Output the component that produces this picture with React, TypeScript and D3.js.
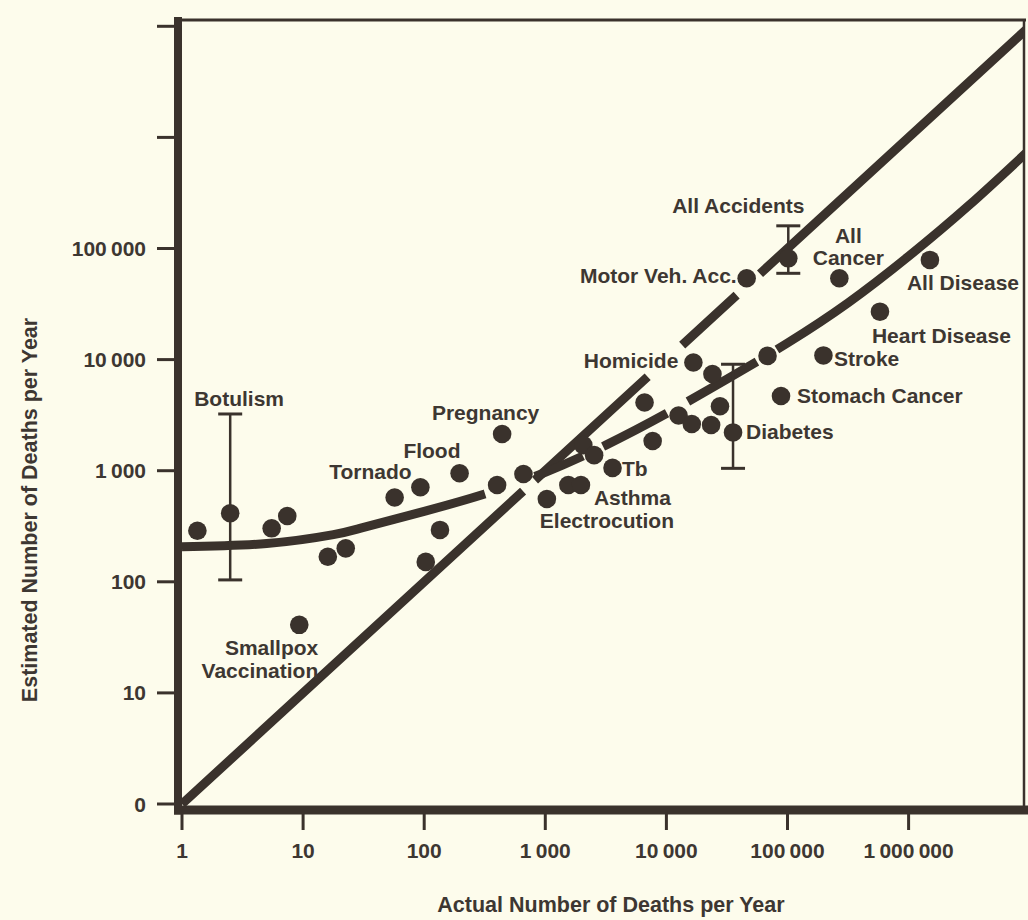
import React, { useEffect, useRef } from "react";
import * as d3 from "d3";

// ---- data ----
const actualDeaths = [
  1.34, 2.5, 5.5, 7.4, 9.3, 16, 22.5, 57, 93, 103, 135, 196, 440, 400, 660, 1030,
  1550, 1970, 2060, 2530, 3590, 6600, 7700, 12600, 16200, 16700, 24000, 23400,
  27700, 35500, 68400, 46000, 101500, 268000, 1500000, 580000, 198000, 88400,
];
const estimatedDeaths = [
  288, 414, 303, 391, 41, 168, 200, 574, 710, 151, 293, 948, 2140, 743, 934, 556,
  743, 743, 1700, 1380, 1060, 4110, 1850, 3140, 2630, 9420, 7420, 2580,
  3800, 2210, 10800, 54000, 81600, 54000, 78900, 27000, 10900, 4700,
];
const hazardNames = [
  "", "Botulism", "", "", "Smallpox Vaccination", "", "", "Tornado", "Flood", "", "", "", "Pregnancy", "", "", "Electrocution",
  "", "Asthma", "", "", "Tb", "", "", "", "", "Homicide", "", "",
  "", "Diabetes", "", "Motor Veh. Acc.", "All Accidents", "All Cancer", "All Disease", "Heart Disease", "Stroke", "Stomach Cancer",
];

const errorBarActual = [2.5, 35500, 101500];
const errorBarLow = [104, 1050, 59800];
const errorBarHigh = [3240, 9080, 160000];

// fitted curve
const fitActual = [1, 5, 17.8, 31.6, 100, 316, 1000, 3162, 10000, 31623, 100000, 316228, 1000000, 3162278, 10000000];
const fitEstimated = [207, 221, 266, 309, 431, 617, 966, 1700, 3270, 6680, 14100, 32400, 85100, 245500, 776000];
// where the lines are interrupted (actual deaths ranges)
const fitGaps: [number, number][] = [[318, 822], [2048, 2999], [10120, 15080], [56000, 81900]];
const identityGaps: [number, number][] = [[655, 822], [7000, 13500], [38000, 59300]];

const xTickValues = [1, 10, 100, 1000, 10000, 100000, 1000000];
const xTickLabels = ["1", "10", "100", "1\u2009000", "10\u2009000", "100\u2009000", "1\u2009000\u2009000"];
const yTickValues = [1, 10, 100, 1000, 10000, 100000, 1000000, 10000000];
const yTickLabels = ["0", "10", "100", "1\u2009000", "10\u2009000", "100\u2009000", "", ""];

const xTitle = "Actual Number of Deaths per Year";
const yTitle = "Estimated Number of Deaths per Year";

// ---- layout ----
const W = 1028;
const H = 920;
const BG = "#fdfcec";
const INK = "#3a322c";
const TEXT = "#3d3732";
const FONT = "'Liberation Sans', Arial, Helvetica, sans-serif";

const labelLayout: Record<string, { dx: number; dy: number[]; anchor: string; lines: string[] }> = {
  "Botulism": { dx: -36, dy: [-107], anchor: "start", lines: ["Botulism"] },
  "Smallpox Vaccination": { dx: 19, dy: [30, 53], anchor: "end", lines: ["Smallpox", "Vaccination"] },
  "Tornado": { dx: 17, dy: [-18], anchor: "end", lines: ["Tornado"] },
  "Flood": { dx: -17, dy: [-29], anchor: "start", lines: ["Flood"] },
  "Pregnancy": { dx: -16.5, dy: [-14], anchor: "middle", lines: ["Pregnancy"] },
  "Electrocution": { dx: -7, dy: [29], anchor: "start", lines: ["Electrocution"] },
  "Asthma": { dx: 13, dy: [20], anchor: "start", lines: ["Asthma"] },
  "Tb": { dx: 9.5, dy: [8], anchor: "start", lines: ["Tb"] },
  "Homicide": { dx: -15, dy: [5.5], anchor: "end", lines: ["Homicide"] },
  "Diabetes": { dx: 13, dy: [7], anchor: "start", lines: ["Diabetes"] },
  "Motor Veh. Acc.": { dx: -10, dy: [5], anchor: "end", lines: ["Motor Veh. Acc."] },
  "All Accidents": { dx: -50, dy: [-45], anchor: "middle", lines: ["All Accidents"] },
  "All Cancer": { dx: 9, dy: [-35, -13], anchor: "middle", lines: ["All", "Cancer"] },
  "All Disease": { dx: -23, dy: [30], anchor: "start", lines: ["All Disease"] },
  "Heart Disease": { dx: -8, dy: [31], anchor: "start", lines: ["Heart Disease"] },
  "Stroke": { dx: 10.5, dy: [11], anchor: "start", lines: ["Stroke"] },
  "Stomach Cancer": { dx: 16, dy: [7], anchor: "start", lines: ["Stomach Cancer"] },
};

function lengthAtX(path: SVGPathElement, px: number): number {
  let lo = 0;
  let hi = path.getTotalLength();
  for (let i = 0; i < 40; i++) {
    const mid = (lo + hi) / 2;
    if (path.getPointAtLength(mid).x < px) lo = mid;
    else hi = mid;
  }
  return lo;
}

function dashWithGaps(path: SVGPathElement, gapsPx: [number, number][]): string {
  const total = path.getTotalLength();
  const parts: number[] = [];
  let prev = 0;
  gapsPx.forEach(([a, b]) => {
    const la = lengthAtX(path, a);
    const lb = lengthAtX(path, b);
    parts.push(la - prev, lb - la);
    prev = lb;
  });
  parts.push(total - prev + 50, 5000);
  return parts.map((v) => v.toFixed(2)).join(" ");
}

export default function App() {
  const ref = useRef<SVGSVGElement>(null);

  useEffect(() => {
    const svg = d3.select(ref.current as SVGSVGElement);
    svg.selectAll("*").remove();

    const x = d3.scaleLog().domain([1, 1e7]).range([182, 182 + 7 * 121.1]);
    const y = d3.scaleLog().domain([1, 1e7]).range([804, 804 - 7 * 111.1]);

    const plotLeft = 178;
    const plotRight = 1024;
    const plotTop = 20;
    const plotBottom = 810;

    svg.append("rect").attr("width", W).attr("height", H).attr("fill", BG);

    svg
      .append("clipPath")
      .attr("id", "plotclip")
      .append("rect")
      .attr("x", plotLeft)
      .attr("y", plotTop)
      .attr("width", plotRight - plotLeft)
      .attr("height", plotBottom - plotTop);

    const plot = svg.append("g").attr("clip-path", "url(#plotclip)");

    // identity line
    const identity = plot
      .append("path")
      .attr("d", d3.line()([[x(1), y(1)], [x(1e7), y(1e7)]]))
      .attr("fill", "none")
      .attr("stroke", INK)
      .attr("stroke-width", 9);
    identity.attr(
      "stroke-dasharray",
      dashWithGaps(identity.node() as SVGPathElement, identityGaps.map(([a, b]) => [x(a), x(b)]))
    );

    // fitted curve
    const fitPts: [number, number][] = fitActual.map((a, i) => [x(a), y(fitEstimated[i])]);
    const curve = plot
      .append("path")
      .attr("d", d3.line().curve(d3.curveNatural)(fitPts))
      .attr("fill", "none")
      .attr("stroke", INK)
      .attr("stroke-width", 9);
    curve.attr(
      "stroke-dasharray",
      dashWithGaps(curve.node() as SVGPathElement, fitGaps.map(([a, b]) => [x(a), x(b)]))
    );

    // error bars
    errorBarActual.forEach((a, i) => {
      const cx = x(a);
      const g = plot.append("g").attr("stroke", INK).attr("stroke-width", 2.5);
      g.append("line").attr("x1", cx).attr("x2", cx).attr("y1", y(errorBarLow[i])).attr("y2", y(errorBarHigh[i]));
      [errorBarLow[i], errorBarHigh[i]].forEach((v) => {
        g.append("line").attr("x1", cx - 12).attr("x2", cx + 12).attr("y1", y(v)).attr("y2", y(v)).attr("stroke-width", 3);
      });
    });

    // dots
    plot
      .append("g")
      .selectAll("circle")
      .data(actualDeaths)
      .join("circle")
      .attr("cx", (d) => x(d))
      .attr("cy", (_d, i) => y(estimatedDeaths[i]))
      .attr("r", 9.3)
      .attr("fill", INK);

    // frame
    const frame = svg.append("g").attr("stroke", INK).attr("fill", "none");
    frame.append("line").attr("x1", plotLeft - 4).attr("x2", plotRight + 2).attr("y1", plotTop).attr("y2", plotTop).attr("stroke-width", 3);
    frame.append("line").attr("x1", plotRight).attr("x2", plotRight).attr("y1", plotTop - 1).attr("y2", plotBottom + 4).attr("stroke-width", 2.5);
    frame.append("line").attr("x1", plotLeft).attr("x2", plotLeft).attr("y1", plotTop - 3).attr("y2", plotBottom + 4.5).attr("stroke-width", 8);
    frame.append("line").attr("x1", plotLeft - 4).attr("x2", W).attr("y1", plotBottom).attr("y2", plotBottom).attr("stroke-width", 9);

    // y ticks
    const yt = svg.append("g");
    yTickValues.forEach((v, i) => {
      yt.append("line").attr("x1", 157).attr("x2", 174).attr("y1", y(v)).attr("y2", y(v)).attr("stroke", INK).attr("stroke-width", 3);
      if (yTickLabels[i]) {
        yt.append("text")
          .attr("x", 146)
          .attr("y", y(v))
          .attr("dy", "0.36em")
          .attr("text-anchor", "end")
          .attr("font-family", FONT)
          .attr("font-weight", "bold")
          .attr("font-size", 21)
          .attr("fill", TEXT)
          .text(yTickLabels[i]);
      }
    });

    // x ticks
    const xt = svg.append("g");
    xTickValues.forEach((v, i) => {
      xt.append("line").attr("x1", x(v)).attr("x2", x(v)).attr("y1", 812).attr("y2", 830).attr("stroke", INK).attr("stroke-width", 3);
      xt.append("text")
        .attr("x", x(v))
        .attr("y", 858)
        .attr("text-anchor", "middle")
        .attr("font-family", FONT)
        .attr("font-weight", "bold")
        .attr("font-size", 21)
        .attr("fill", TEXT)
        .text(xTickLabels[i]);
    });

    // hazard labels
    const lab = svg.append("g").attr("font-family", FONT).attr("font-weight", "bold").attr("font-size", 21).attr("fill", TEXT);
    hazardNames.forEach((name, i) => {
      if (!name) return;
      const L = labelLayout[name];
      if (!L) return;
      const cx = x(actualDeaths[i]);
      const cy = y(estimatedDeaths[i]);
      L.lines.forEach((t, k) => {
        lab.append("text")
          .attr("x", cx + L.dx)
          .attr("y", cy + L.dy[k])
          .attr("text-anchor", L.anchor)
          .text(t);
      });
    });

    // axis titles
    svg.append("text")
      .attr("x", 611)
      .attr("y", 912)
      .attr("text-anchor", "middle")
      .attr("font-family", FONT)
      .attr("font-weight", "bold")
      .attr("font-size", 21.5)
      .attr("fill", TEXT)
      .text(xTitle);

    svg.append("text")
      .attr("transform", "translate(37,510) rotate(-90)")
      .attr("text-anchor", "middle")
      .attr("font-family", FONT)
      .attr("font-weight", "bold")
      .attr("font-size", 21.5)
      .attr("fill", TEXT)
      .text(yTitle);
  }, []);

  return (
    <svg
      ref={ref}
      width={W}
      height={H}
      style={{ position: "absolute", left: 0, top: 0, display: "block" }}
    />
  );
}
